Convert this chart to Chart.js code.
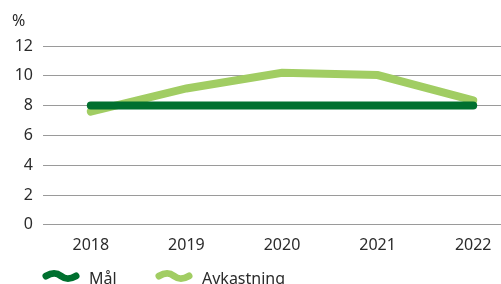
<!DOCTYPE html>
<html>
<head>
<meta charset="utf-8">
<script src="https://cdn.jsdelivr.net/npm/chart.js@4"></script>
<style>
  html, body { margin: 0; padding: 0; background: #fff; overflow: hidden; }
  #wrap { position: relative; width: 521px; height: 300px; }
</style>
</head>
<body>
<div id="wrap"><canvas id="chart"></canvas></div>
<script>
const years = ['2018', '2019', '2020', '2021', '2022'];
const malValues = [8, 8, 8, 8, 8];
const avkastningValues = [7.6, 9.15, 10.2, 10.05, 8.35];
const yTicks = [0, 2, 4, 6, 8, 10, 12];

const darkGreen = '#00702f';
const lightGreen = '#a1cd63';
const textColor = '#2b2b2b';
const fontFamily = "'Noto Sans', 'Open Sans', sans-serif";

// wavy marker used in the legend
function drawWave(ctx, x, y, color) {
    ctx.save();
    ctx.strokeStyle = color;
    ctx.lineWidth = 7;
    ctx.lineCap = 'round';
    ctx.beginPath();
    ctx.moveTo(x, y);
    ctx.bezierCurveTo(x + 7, y - 4, x + 11, y - 3, x + 15, y);
    ctx.bezierCurveTo(x + 19, y + 3, x + 23, y + 4, x + 30, y);
    ctx.stroke();
    ctx.restore();
}

// "%" label and legend drawn by hand
const extras = {
    id: 'extras',
    afterDraw(chart) {
        const ctx = chart.ctx;
        ctx.save();
        ctx.font = '16px ' + fontFamily;
        ctx.fillStyle = textColor;
        ctx.textAlign = 'left';
        ctx.textBaseline = 'middle';
        ctx.fillText('%', 12, 21);

        const legendX = [46, 159];
        chart.data.datasets.forEach((ds, i) => {
            drawWave(ctx, legendX[i], 276, ds.borderColor);
            ctx.fillStyle = textColor;
            ctx.fillText(ds.label, legendX[i] + 43, 279);
        });
        ctx.restore();
    }
};

new Chart(document.getElementById('chart'), {
    type: 'line',
    data: {
        labels: years,
        datasets: [
            {
                label: 'Mål',
                data: malValues,
                borderColor: darkGreen,
                borderWidth: 8,
                borderCapStyle: 'round',
                pointRadius: 0,
                tension: 0
            },
            {
                label: 'Avkastning',
                data: avkastningValues,
                borderColor: lightGreen,
                borderWidth: 8,
                borderCapStyle: 'round',
                pointRadius: 0,
                tension: 0
            }
        ]
    },
    options: {
        responsive: true,
        maintainAspectRatio: false,
        animation: false,
        layout: { padding: { top: 46, left: 0, right: 0, bottom: 42 } },
        scales: {
            x: {
                offset: true,
                grid: { display: false },
                border: { display: false },
                ticks: {
                    color: textColor,
                    font: { family: fontFamily, size: 16 },
                    padding: 3
                }
            },
            y: {
                min: 0,
                max: 12,
                afterBuildTicks(axis) {
                    axis.ticks = yTicks.map(v => ({ value: v }));
                },
                afterFit(axis) {
                    axis.width = 43;
                },
                grid: { color: '#9a9a9a', lineWidth: 1, drawTicks: false },
                border: { display: false },
                ticks: {
                    color: textColor,
                    font: { family: fontFamily, size: 16 },
                    padding: 10
                }
            }
        },
        plugins: {
            legend: { display: false },
            tooltip: { enabled: false }
        }
    },
    plugins: [extras]
});
</script>
</body>
</html>
